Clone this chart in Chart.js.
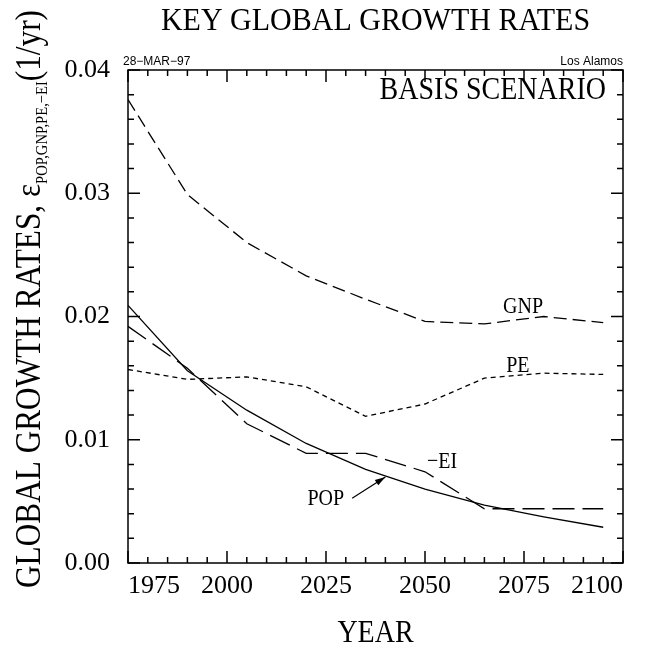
<!DOCTYPE html>
<html>
<head>
<meta charset="utf-8">
<script src="https://cdn.jsdelivr.net/npm/chart.js@4"></script>
<style>
  body { margin: 0; background: #fff; }
  canvas { display: block; }
</style>
</head>
<body>
<canvas id="grafico" width="652" height="651"></canvas>
<script>
// anos e taxas
const anos = [1975, 1990, 2005, 2020, 2035, 2050, 2065, 2080, 2095];
const gnp = [0.0376, 0.0299, 0.0260, 0.0233, 0.0214, 0.0196, 0.0194, 0.0200, 0.0195];
const pe = [0.0157, 0.0149, 0.0151, 0.0143, 0.0119, 0.0129, 0.0150, 0.0154, 0.0153];
const pop = [0.0209, 0.0156, 0.0124, 0.0097, 0.0076, 0.0060, 0.0047, 0.00375, 0.0029];
const ei = [0.0192, 0.0158, 0.0113, 0.0089, 0.0089, 0.0074, 0.0044, 0.0044, 0.0044];
const ticksX = [1975, 2000, 2025, 2050, 2075, 2100];
const ticksY = [0.00, 0.01, 0.02, 0.03, 0.04];

const serif = "'Liberation Serif', 'Times New Roman', serif";
const sans = "'Liberation Sans', Arial, sans-serif";

function pontos(vals) {
  return anos.map((a, i) => ({ x: a, y: vals[i] }));
}

// texto esticado na vertical (fonte hershey e mais alta)
function texto(ctx, t, x, y, size, align, sy) {
  ctx.save();
  ctx.translate(x, y);
  ctx.scale(1, sy || 1.15);
  ctx.font = size + "px " + serif;
  ctx.textAlign = align || "left";
  ctx.textBaseline = "alphabetic";
  ctx.fillText(t, 0, 0);
  ctx.restore();
}

const extras = {
  id: "extras",
  afterDatasetsDraw(chart) {
    const ctx = chart.ctx;
    const a = chart.chartArea;
    const sx = chart.scales.x, sy = chart.scales.y;
    ctx.save();
    ctx.fillStyle = "#000";
    ctx.strokeStyle = "#000";

    // moldura e marcas para dentro
    ctx.lineWidth = 1.5;
    ctx.strokeRect(a.left, a.top, a.right - a.left, a.bottom - a.top);
    ctx.beginPath();
    for (let ano = 1975; ano <= 2100; ano += 5) {
      const px = sx.getPixelForValue(ano);
      const l = ano % 25 == 0 ? 12 : 6;
      ctx.moveTo(px, a.bottom); ctx.lineTo(px, a.bottom - l);
      ctx.moveTo(px, a.top); ctx.lineTo(px, a.top + l);
    }
    for (let k = 0; k <= 20; k++) {
      const py = sy.getPixelForValue(k * 0.002);
      const l = k % 5 == 0 ? 12 : 6;
      ctx.moveTo(a.left, py); ctx.lineTo(a.left + l, py);
      ctx.moveTo(a.right, py); ctx.lineTo(a.right - l, py);
    }
    ctx.stroke();

    // titulos
    texto(ctx, "KEY GLOBAL GROWTH RATES", (a.left + a.right) / 2, 30, 30, "center", 1.03);
    texto(ctx, "YEAR", (a.left + a.right) / 2, 642, 28, "center", 1.15);
    texto(ctx, "BASIS SCENARIO", a.right - 17, 99, 28, "right", 1.15);

    ctx.font = "12px " + sans;
    ctx.textAlign = "left";
    ctx.fillText("28\u2212MAR\u221297", a.left - 5, 65);
    ctx.textAlign = "right";
    ctx.fillText("Los Alamos", a.right, 65);

    // rotulos das curvas
    const rot = (t, ano, v, size) =>
      texto(ctx, t, sx.getPixelForValue(ano), sy.getPixelForValue(v), size, "left", 1.15);
    rot("GNP", 2069.7, 0.0203, 20);
    rot("PE", 2070.5, 0.01547, 20);
    rot("\u2212EI", 2050.5, 0.0077, 20);
    rot("POP", 2020.3, 0.0047, 20);

    // seta do POP
    const x0 = sx.getPixelForValue(2031.6), y0 = sy.getPixelForValue(0.00526);
    const x1 = sx.getPixelForValue(2040.0), y1 = sy.getPixelForValue(0.00698);
    const ang = Math.atan2(y1 - y0, x1 - x0);
    ctx.lineWidth = 1.2;
    ctx.beginPath(); ctx.moveTo(x0, y0); ctx.lineTo(x1, y1); ctx.stroke();
    ctx.beginPath();
    ctx.moveTo(x1, y1);
    ctx.lineTo(x1 - 11 * Math.cos(ang - 0.3), y1 - 11 * Math.sin(ang - 0.3));
    ctx.lineTo(x1 - 11 * Math.cos(ang + 0.3), y1 - 11 * Math.sin(ang + 0.3));
    ctx.closePath(); ctx.fill();

    // titulo do eixo y com subscrito
    const partes = [
      { t: "GLOBAL GROWTH RATES, ", s: 30, dy: 0 },
      { t: "\u03b5", s: 30, dy: 0 },
      { t: "POP,GNP,PE,\u2212EI", s: 14, dy: 7 },
      { t: "(1/yr)", s: 30, dy: 0 }
    ];
    let total = 0;
    partes.forEach(p => { ctx.font = p.s + "px " + serif; p.w = ctx.measureText(p.t).width; total += p.w; });
    const comp = 578 / total;
    ctx.save();
    ctx.translate(40, 588);
    ctx.rotate(-Math.PI / 2);
    ctx.scale(comp, 1.2);
    ctx.textAlign = "left";
    let pos = 0;
    partes.forEach(p => {
      ctx.font = p.s + "px " + serif;
      ctx.fillText(p.t, pos, p.dy / 1.2);
      pos += p.w;
    });
    ctx.restore();

    ctx.restore();
  }
};

const ctx = document.getElementById("grafico");
Chart.defaults.color = "#000";
new Chart(ctx, {
  type: "line",
  data: {
    datasets: [
      { label: "GNP", data: pontos(gnp), borderDash: [13, 6] },
      { label: "PE", data: pontos(pe), borderDash: [5, 4] },
      { label: "POP", data: pontos(pop) },
      { label: "-EI", data: pontos(ei), borderDash: [22, 8] }
    ].map(d => Object.assign(d, { borderColor: "#000", borderWidth: 1.3, pointRadius: 0, fill: false, tension: 0 }))
  },
  options: {
    responsive: false,
    animation: false,
    layout: { padding: { top: 70, right: 29, left: 0, bottom: 0 } },
    plugins: { legend: { display: false }, tooltip: { enabled: false } },
    scales: {
      x: {
        type: "linear", min: 1975, max: 2100,
        grid: { display: false, drawTicks: false },
        border: { display: false },
        afterBuildTicks: s => { s.ticks = ticksX.map(v => ({ value: v })); },
        afterFit: s => { s.height = 88; },
        ticks: {
          align: "inner", padding: 8, maxRotation: 0, autoSkip: false,
          font: { family: serif, size: 26 }, color: "#000",
          callback: v => String(v)
        }
      },
      y: {
        min: 0, max: 0.04,
        grid: { display: false, drawTicks: false },
        border: { display: false },
        afterBuildTicks: s => { s.ticks = ticksY.map(v => ({ value: v })); },
        afterFit: s => { s.width = 128; },
        ticks: {
          padding: 18, font: { family: serif, size: 26 }, color: "#000",
          callback: v => v.toFixed(2)
        }
      }
    }
  },
  plugins: [extras]
});
</script>
</body>
</html>
